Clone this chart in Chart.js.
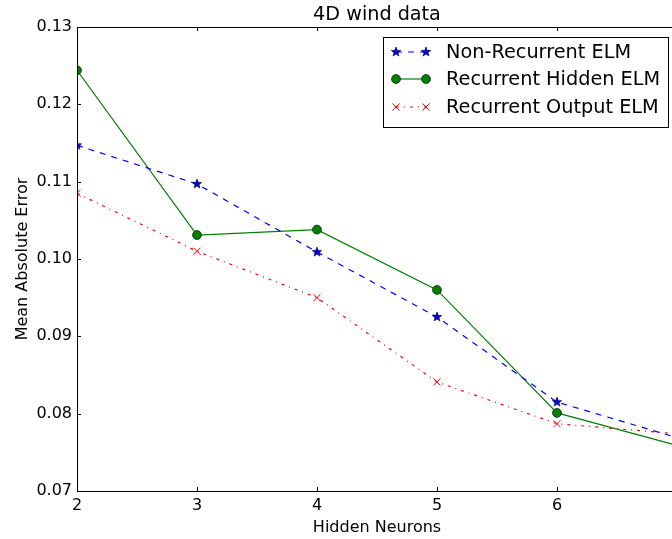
<!DOCTYPE html>
<html>
<head>
<meta charset="utf-8">
<script src="https://cdn.jsdelivr.net/npm/chart.js@4/dist/chart.umd.min.js"></script>
<style>
html,body{margin:0;padding:0;background:#fff;overflow:hidden;}
#wrap{position:relative;width:700px;height:539px;}
</style>
</head>
<body>
<div id="wrap"><canvas id="c" width="700" height="539"></canvas></div>
<script>
const chartTitle = "4D wind data";
const xTitle = "Hidden Neurons";
const yTitle = "Mean Absolute Error";
const neurons = [2, 3, 4, 5, 6, 7];
const nonRecurrent = [0.1147, 0.1097, 0.1009, 0.0925, 0.0815, 0.0769];
const recurrentHidden = [0.1244, 0.1031, 0.1038, 0.0960, 0.0801, 0.0759];
const recurrentOutput = [0.1085, 0.1010, 0.0950, 0.0841, 0.0787, 0.0774];
const seriesNames = ["Non-Recurrent ELM", "Recurrent Hidden ELM", "Recurrent Output ELM"];
const xTicks = [2, 3, 4, 5, 6, 7];
const yTicks = [0.07, 0.08, 0.09, 0.10, 0.11, 0.12, 0.13];

const FONT = "'DejaVu Sans', sans-serif";

function makeStar(size, fill) {
  const c = document.createElement('canvas');
  c.width = size; c.height = size;
  const g = c.getContext('2d');
  const cx = size / 2, cy = size / 2, R = size / 2 - 1, r = R * 0.42;
  g.beginPath();
  for (let i = 0; i < 10; i++) {
    const a = -Math.PI / 2 + i * Math.PI / 5;
    const rr = i % 2 === 0 ? R : r;
    const px = cx + rr * Math.cos(a), py = cy + rr * Math.sin(a);
    if (i === 0) g.moveTo(px, py); else g.lineTo(px, py);
  }
  g.closePath();
  g.fillStyle = fill; g.fill();
  g.lineWidth = 0.6; g.strokeStyle = '#000'; g.stroke();
  return c;
}
const starImg = makeStar(12, '#0000ff');

function pts(vals) { return neurons.map((n, i) => ({ x: n, y: vals[i] })); }

const styles = [
  { color: '#0000ff', dash: [6, 6], point: starImg, radius: 5, bg: '#0000ff', pborder: '#000', pbw: 0.5 },
  { color: '#008000', dash: [], point: 'circle', radius: 4.5, bg: '#008000', pborder: '#000', pbw: 0.6 },
  { color: '#ff0000', dash: [3, 5, 1, 5], point: 'crossRot', radius: 5, bg: '#ff0000', pborder: '#ff0000', pbw: 1 }
];
const seriesVals = [nonRecurrent, recurrentHidden, recurrentOutput];

const datasets = seriesVals.map((v, i) => ({
  label: seriesNames[i],
  data: pts(v),
  borderColor: styles[i].color,
  borderWidth: 1.2,
  borderDash: styles[i].dash,
  pointStyle: styles[i].point,
  pointRadius: styles[i].radius,
  pointBackgroundColor: styles[i].bg,
  pointBorderColor: styles[i].pborder,
  pointBorderWidth: styles[i].pbw,
  tension: 0,
  fill: false,
  clip: 0
}));

const frame = {
  id: 'frame',
  afterDraw(chart) {
    const { ctx, chartArea: a, scales } = chart;
    const xs = scales.x, ys = scales.y;
    ctx.save();
    ctx.strokeStyle = '#000';
    ctx.lineWidth = 1;
    ctx.strokeRect(Math.round(a.left) + 0.5, Math.round(a.top) + 0.5, Math.round(a.right - a.left), Math.round(a.bottom - a.top));
    const tl = 4;
    ctx.beginPath();
    xTicks.forEach(t => {
      const px = Math.round(xs.getPixelForValue(t)) + 0.5;
      ctx.moveTo(px, a.bottom); ctx.lineTo(px, a.bottom - tl);
      ctx.moveTo(px, a.top); ctx.lineTo(px, a.top + tl);
    });
    yTicks.forEach(t => {
      const py = Math.round(ys.getPixelForValue(t)) + 0.5;
      ctx.moveTo(a.left, py); ctx.lineTo(a.left + tl, py);
      ctx.moveTo(a.right, py); ctx.lineTo(a.right - tl, py);
    });
    ctx.stroke();

    ctx.fillStyle = '#000';
    ctx.textAlign = 'center';
    ctx.textBaseline = 'alphabetic';
    ctx.font = '19.2px ' + FONT;
    ctx.fillText(chartTitle, (a.left + a.right) / 2, 20);
    ctx.font = '16px ' + FONT;
    ctx.fillText(xTitle, (a.left + a.right) / 2, 532);
    ctx.save();
    ctx.translate(27, (a.top + a.bottom) / 2);
    ctx.rotate(-Math.PI / 2);
    ctx.fillText(yTitle, 0, 0);
    ctx.restore();

    // legend
    const lx = 383.5, ly = 37.5, lw = 285, lh = 90;
    ctx.fillStyle = '#fff';
    ctx.fillRect(lx, ly, lw, lh);
    ctx.strokeStyle = '#000';
    ctx.lineWidth = 1;
    ctx.strokeRect(lx, ly, lw, lh);
    const rows = [52, 79, 107];
    rows.forEach((ry, i) => {
      const s = styles[i];
      ctx.save();
      ctx.strokeStyle = s.color;
      ctx.lineWidth = 1.2;
      ctx.setLineDash(s.dash);
      ctx.beginPath();
      ctx.moveTo(396, ry); ctx.lineTo(426, ry);
      ctx.stroke();
      ctx.setLineDash([]);
      [396, 426].forEach(mx => {
        ctx.fillStyle = s.bg;
        ctx.strokeStyle = s.pborder;
        ctx.lineWidth = s.pbw;
        Chart.helpers.drawPoint(ctx, {
          pointStyle: s.point, radius: s.radius, rotation: 0, borderWidth: s.pbw
        }, mx, ry);
      });
      ctx.restore();
    });
    ctx.font = '19.3px ' + FONT;
    ctx.textAlign = 'left';
    ctx.textBaseline = 'middle';
    ctx.fillStyle = '#000';
    rows.forEach((ry, i) => ctx.fillText(seriesNames[i], 446, ry + 1));
    ctx.restore();
  }
};

const chart = new Chart(document.getElementById('c'), {
  type: 'line',
  data: { datasets },
  options: {
    responsive: false,
    animation: false,
    devicePixelRatio: 1,
    layout: { padding: { top: 27, right: 23, left: 0, bottom: 0 } },
    plugins: { legend: { display: false }, title: { display: false }, tooltip: { enabled: false } },
    scales: {
      x: {
        type: 'linear', min: 2, max: 7,
        afterBuildTicks: s => { s.ticks = xTicks.map(v => ({ value: v })); },
        afterFit: s => { s.height = 48; },
        grid: { display: false, drawTicks: false },
        border: { display: false },
        ticks: { font: { family: FONT, size: 16 }, color: '#000', padding: 5, maxRotation: 0, callback: v => String(v) }
      },
      y: {
        type: 'linear', min: 0.07, max: 0.13,
        afterBuildTicks: s => { s.ticks = yTicks.map(v => ({ value: v })); },
        afterFit: s => { s.width = 77; },
        grid: { display: false, drawTicks: false },
        border: { display: false },
        ticks: { font: { family: FONT, size: 16 }, color: '#000', padding: 5, callback: v => v.toFixed(2) }
      }
    }
  },
  plugins: [frame]
});
</script>
</body>
</html>
